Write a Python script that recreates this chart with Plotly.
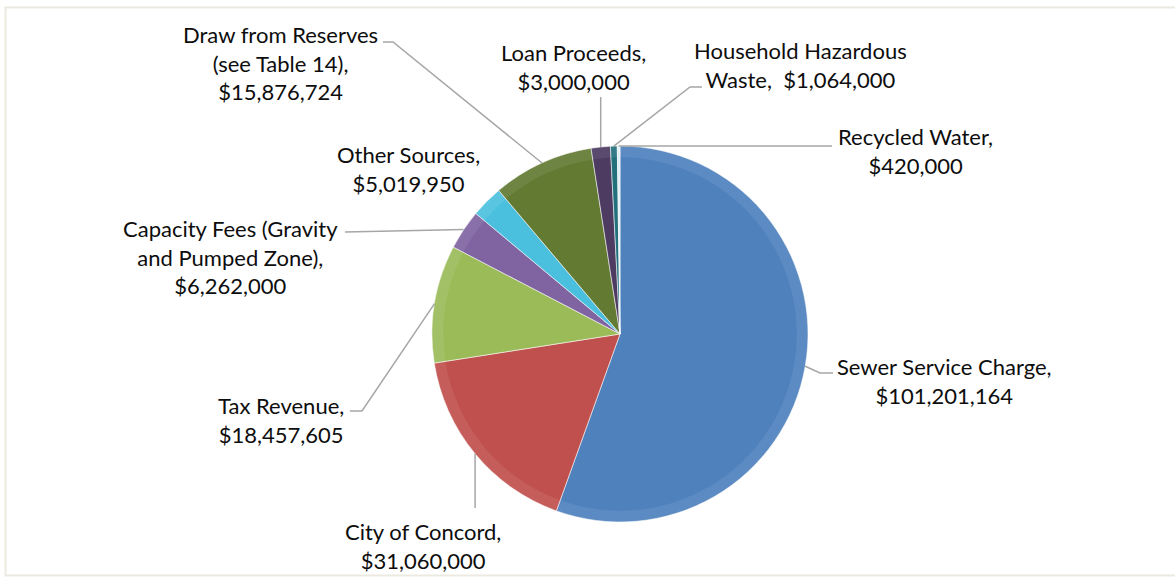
import math
import plotly.graph_objects as go

# ---- data -------------------------------------------------------------
categories = [
    "Sewer Service Charge",
    "City of Concord",
    "Tax Revenue",
    "Capacity Fees (Gravity<br>and Pumped Zone)",
    "Other Sources",
    "Draw from Reserves<br>(see Table 14)",
    "Loan Proceeds",
    "Household Hazardous<br>Waste",
    "Recycled Water",
]
values = [101201164, 31060000, 18457605, 6262000, 5019950, 15876724, 3000000, 1064000, 420000]

# ---- styling ----------------------------------------------------------
colors = ["#4F81BD", "#C0504D", "#9BBB59", "#8064A2", "#4BC0DE",
          "#627A32", "#4D3B62", "#22707C", "#DDEFF4"]
W, H = 1175, 577
CX, CY, R = 620, 334, 188          # pie centre / radius in px
FONT = "Lato, 'Open Sans', sans-serif"

# label placement (px): centre x, centre y, separator between name and value,
# leader-line points from the label towards the slice
label_layout = [
    dict(x=944, y=381, sep=",<br>", lead=[(833, 373), (820, 373)]),
    dict(x=423, y=546, sep=",<br>", lead=[("ax", 508)]),
    dict(x=281, y=420, sep=",<br>", lead=[(350, 411), (362, 411)]),
    dict(x=230, y=257, sep=",<br>", lead=[(345, 232)]),
    dict(x=408, y=169, sep=",<br>", lead=None),
    dict(x=280, y=63, sep=",<br>", lead=[(383, 42), (393, 42)]),
    dict(x=573, y=67, sep=",<br>", lead=[("ax", 97)]),
    dict(x=800, y=65, sep=",  ", lead=[(702, 87), (690, 87)]),
    dict(x=915, y=151, sep=",<br>", lead=[(832, 146)]),
]

fig = go.Figure()

dom_x = [(CX - R) / W, (CX + R) / W]
dom_y = [(H - CY - R) / H, (H - CY + R) / H]

fig.add_trace(go.Pie(
    labels=[c.replace("<br>", " ") for c in categories],
    values=values,
    sort=False,
    direction="clockwise",
    rotation=0,
    marker=dict(colors=colors, line=dict(color="rgba(255,255,255,0.55)", width=1)),
    textinfo="none",
    hoverinfo="label+value",
    showlegend=False,
    domain=dict(x=dom_x, y=dom_y),
))

# soft bevel highlight around the rim
fig.add_trace(go.Pie(
    values=values,
    sort=False,
    direction="clockwise",
    rotation=0,
    hole=0.94,
    marker=dict(colors=["rgba(255,255,255,0.08)"] * len(values), line=dict(width=0)),
    textinfo="none",
    hoverinfo="skip",
    showlegend=False,
    domain=dict(x=dom_x, y=dom_y),
))

# ---- labels and leader lines -----------------------------------------
total = sum(values)
cum = 0.0
for cat, val, lay in zip(categories, values, label_layout):
    mid = (cum + val / 2) / total * 2 * math.pi
    cum += val
    ax = CX + R * math.sin(mid)
    ay = CY - R * math.cos(mid)

    fig.add_annotation(
        x=lay["x"], y=lay["y"], xref="x", yref="y",
        text=f"{cat}{lay['sep']}${val:,}",
        showarrow=False, align="center",
        xanchor="center", yanchor="middle",
        font=dict(family=FONT, size=22, color="#0D0D0D"),
    )

    if lay["lead"]:
        pts = [(ax if px == "ax" else px, py) for px, py in lay["lead"]] + [(ax, ay)]
        path = "M " + " L ".join(f"{px:.1f},{py:.1f}" for px, py in pts)
        fig.add_shape(type="path", path=path, xref="x", yref="y",
                      line=dict(color="#A6A6A6", width=1.5))

# chart-area frame
fig.add_shape(type="rect", x0=5.5, y0=7.5, x1=W + 5, y1=575.5, xref="x", yref="y",
              line=dict(color="#ECEAE0", width=2), layer="below")

fig.update_xaxes(range=[0, W], visible=False, fixedrange=True)
fig.update_yaxes(range=[H, 0], visible=False, fixedrange=True)
fig.update_layout(
    width=W, height=H,
    margin=dict(l=0, r=0, t=0, b=0),
    paper_bgcolor="white",
    plot_bgcolor="rgba(0,0,0,0)",
)

fig.write_html("out.html")
